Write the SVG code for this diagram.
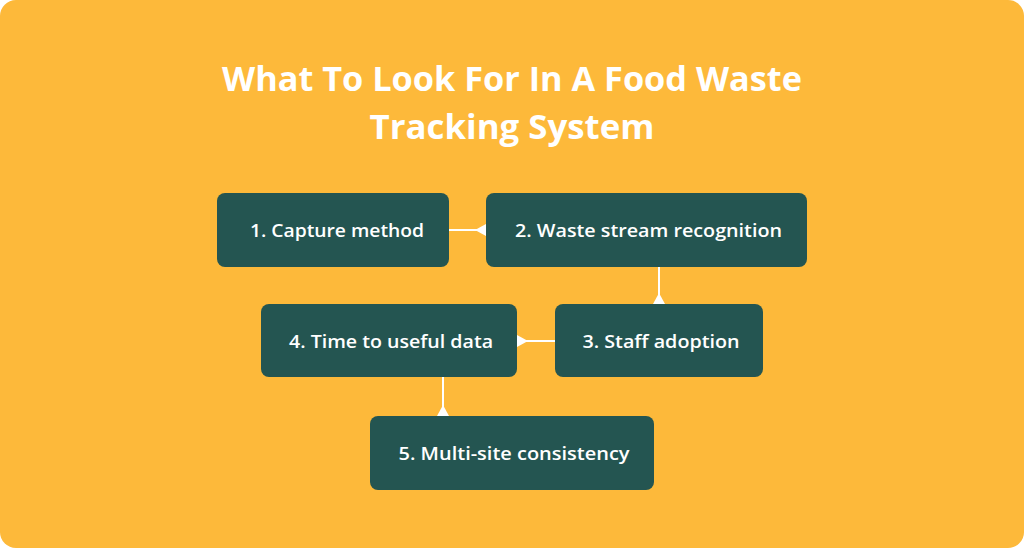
<svg xmlns="http://www.w3.org/2000/svg" width="1024" height="548" viewBox="0 0 1024 548">
<style>
.box{fill:#245551;}
.lbl{fill:#ffffff;font-family:"Open Sans","Liberation Sans",sans-serif;font-weight:600;font-size:18px;text-anchor:middle;}
.ttl{fill:#ffffff;font-family:"Open Sans","Liberation Sans",sans-serif;font-weight:700;font-size:34px;text-anchor:middle;}
.con{stroke:#ffffff;stroke-width:2;fill:none;marker-end:url(#tri);}
</style>
<defs>
<marker id="tri" markerUnits="userSpaceOnUse" viewBox="-12 -7 13 14" markerWidth="13" markerHeight="14" refX="0" refY="0" orient="auto" overflow="visible">
<path d="M0,-6 L0,6 L-11,0 z" fill="#ffffff"/>
</marker>
</defs>
<rect x="0" y="0" width="1024" height="548" fill="#ffffff"/>
<rect x="0" y="0" width="1024" height="548" rx="16" fill="#FDB93A"/>
<g id="title">
<text class="ttl" x="512" y="91" textLength="580" lengthAdjust="spacingAndGlyphs">What To Look For In A Food Waste</text>
<text class="ttl" x="512" y="139" textLength="285" lengthAdjust="spacingAndGlyphs">Tracking System</text>
</g>
<g id="connectors">
<line class="con" x1="449" y1="230" x2="486" y2="230"/>
<line class="con" x1="659" y1="267" x2="659" y2="304"/>
<line class="con" x1="555" y1="341" x2="517" y2="341"/>
<line class="con" x1="443" y1="377" x2="443" y2="416"/>
</g>
<g id="node1">
<rect class="box" x="217" y="193" width="232" height="74" rx="8"/>
<text class="lbl" x="337" y="237" textLength="174" lengthAdjust="spacingAndGlyphs">1. Capture method</text>
</g>
<g id="node2">
<rect class="box" x="486" y="193" width="321" height="74" rx="8"/>
<text class="lbl" x="648.5" y="237" textLength="267" lengthAdjust="spacingAndGlyphs">2. Waste stream recognition</text>
</g>
<g id="node3">
<rect class="box" x="555" y="304" width="208" height="73" rx="8"/>
<text class="lbl" x="661" y="348" textLength="157" lengthAdjust="spacingAndGlyphs">3. Staff adoption</text>
</g>
<g id="node4">
<rect class="box" x="261" y="304" width="256" height="73" rx="8"/>
<text class="lbl" x="391" y="348" textLength="204" lengthAdjust="spacingAndGlyphs">4. Time to useful data</text>
</g>
<g id="node5">
<rect class="box" x="370" y="416" width="284" height="74" rx="8"/>
<text class="lbl" x="514" y="460" textLength="231" lengthAdjust="spacingAndGlyphs">5. Multi-site consistency</text>
</g>
</svg>
